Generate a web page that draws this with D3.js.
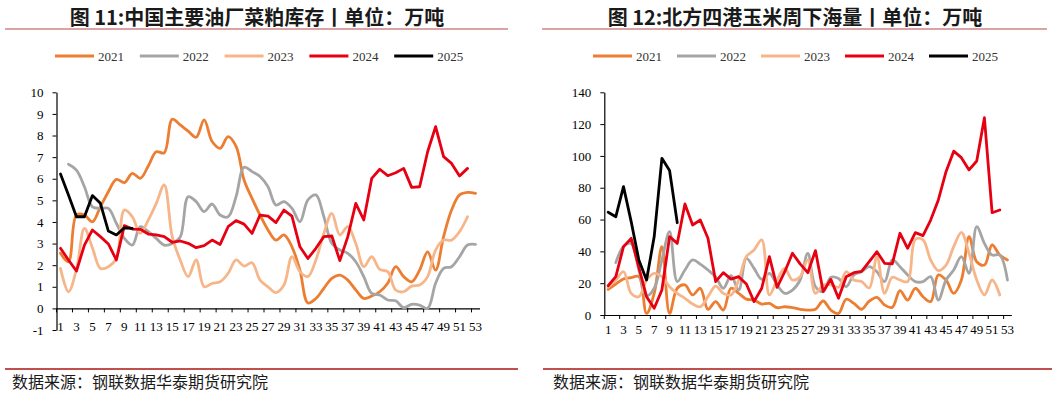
<!DOCTYPE html>
<html>
<head>
<meta charset="utf-8">
<script src="https://cdn.jsdelivr.net/npm/d3@7"></script>
<style>
  body { margin: 0; background: #fff; }
  svg { display: block; }
</style>
</head>
<body>
<svg id="chart" width="1057" height="394"></svg>
<script>
// week numbers on the category axis
const weeks = d3.range(1, 54);
const years = ['2021', '2022', '2023', '2024', '2025'];

// chart 11: rapeseed meal stocks at main oil mills (10k t)
const meal2021 = [2.55, 2.16, 4.32, 4.32, 4.0, 4.7, 5.4, 5.97, 5.82, 6.25, 6.02, 6.59, 7.25, 7.2, 8.75, 8.49, 8.2, 7.92, 8.72, 7.72, 7.41, 7.95, 7.5, 5.94, 5.09, 4.32, 3.63, 3.16, 3.4, 2.85, 1.77, 0.25, 0.46, 0.93, 1.39, 1.54, 1.31, 0.85, 0.46, 0.57, 0.77, 1.16, 1.93, 1.47, 1.23, 1.77, 2.62, 1.77, 3.32, 4.55, 5.25, 5.37, 5.32];
const meal2022 = [null, 6.67, 6.4, 5.63, 4.7, 4.63, 4.63, 3.94, 3.24, 2.93, 3.78, 3.55, 3.24, 2.93, 3.0, 3.3, 5.17, 4.94, 4.48, 4.83, 4.32, 4.24, 5.17, 6.53, 6.33, 6.1, 5.63, 4.78, 4.94, 4.63, 4.01, 5.02, 5.25, 4.24, 3.0, 2.7, 2.55, 2.16, 1.47, 0.69, 0.62, 0.39, 0.35, 0.03, 0.19, 0.15, 0.0, 1.16, 1.85, 1.93, 2.39, 2.93, 2.96];
const meal2023 = [1.85, 0.77, 1.8, 3.7, 2.8, 1.85, 1.93, 2.31, 4.55, 4.24, 3.47, 4.09, 4.86, 5.71, 3.32, 2.24, 1.47, 2.24, 1.0, 1.16, 1.23, 1.62, 2.24, 1.96, 2.11, 1.31, 1.0, 0.73, 1.08, 2.39, 1.7, 1.47, 2.24, 3.47, 4.4, 3.4, 3.78, 3.0, 1.93, 2.39, 1.8, 1.7, 0.85, 0.77, 1.03, 1.08, 1.47, 2.7, 3.16, 3.16, 3.55, 4.24];
const meal2024 = [2.78, 2.24, 1.73, 2.93, 3.63, 3.32, 2.98, 2.24, 3.83, 3.67, 3.66, 3.44, 3.4, 3.32, 3.06, 3.12, 3.01, 2.81, 2.9, 3.16, 2.96, 3.78, 4.06, 3.9, 3.47, 4.32, 4.27, 3.97, 4.55, 4.27, 2.85, 2.31, 2.78, 3.32, 3.35, 2.21, 3.32, 4.86, 4.09, 6.02, 6.44, 6.14, 6.28, 6.48, 5.6, 5.63, 7.25, 8.41, 7.02, 6.71, 6.13, 6.48];
const meal2025 = [6.22, 5.25, 4.24, 4.24, 5.22, 4.86, 3.58, 3.4, 3.73, 3.7];

// chart 12: weekly corn shipments at four northern ports (10k t)
const corn2021 = [16.1, 19.5, 22.6, 23.5, 24.1, 1, 13.6, 43, 1, 16.8, 18.9, 12.6, 16.8, 3.6, 8.4, 3.1, 16.8, 13.6, 10, 9.4, 6.9, 7.3, 4.6, 5.2, 4.6, 3.6, 3.1, 3.6, 8.8, 3.1, 1, 9.9, 7.3, 3.6, 8.7, 11.1, 6.3, 4.8, 15.3, 9.4, 16.8, 11.5, 8.4, 25.2, 22, 13.6, 22, 49.3, 33.5, 31.4, 44, 37.7, 34.6];
const corn2022 = [null, 32.9, 43, 45, 28.3, 12, 16.8, 34.6, 52.4, 21, 28.3, 34.6, 32, 28.3, 24, 16.8, 24.7, 15.7, 35.6, 29.3, 22.4, 26.2, 18.9, 13.6, 15.7, 22, 38.8, 17.8, 14.7, 23.7, 23, 17.8, 25.2, 27.2, 30.4, 27.2, 21, 34.6, 30.4, 25.2, 21, 21, 24.1, 9.4, 22, 28.3, 36.7, 26.2, 55.5, 45, 37.7, 37.7, 22];
const corn2023 = [17.4, 22, 27.2, 13.6, 11.5, 22, 26.2, 24.1, 17.8, 13.6, 10.5, 6.9, 5.2, 11.5, 18.2, 13.6, 12.6, 22, 36.7, 40.9, 47.2, 12.6, 22, 29.3, 22, 24.1, 34.6, 13.6, 18.9, 18.9, 17.4, 27.2, 22, 21, 17, 36.7, 13.6, 23.7, 22, 21, 47.6, 47.2, 34.6, 27.9, 31.4, 43, 52, 38.8, 22, 12.6, 22, 12.6];
const corn2024 = [18.4, 24.1, 43, 48.2, 30, 11.5, 4.2, 15.7, 49.3, 45, 69.8, 56.6, 59.7, 48.2, 21, 26.6, 22.6, 24.1, 19.5, 8.4, 16.8, 36.7, 17.4, 27.2, 38.8, 32.1, 26.6, 40.5, 14.7, 22.4, 10.5, 24.1, 26.6, 27.5, 33.5, 39.8, 32.5, 32.1, 51.4, 41.9, 51.8, 49.9, 59.7, 72.3, 90.1, 103, 98.9, 91.2, 96.8, 124, 64.3, 66];
const corn2025 = [64.6, 61.8, 80.7, 58.7, 34.6, 22, 49.3, 98.5, 90.8, 58];

const leftTicks = d3.range(-1, 11);
const rightTicks = d3.range(0, 141, 20);

const seriesColors = ['#ED7D31', '#A5A5A5', '#F7B68A', '#E60012', '#000000'];
// first three years are drawn as smoothed lines, the last two straight
const smoothed = [true, true, true, false, false];

const serif = '"Liberation Serif", "Times New Roman", serif';
const cjk = '"Noto Sans CJK SC", "Noto Sans", sans-serif';

const svg = d3.select('#chart');

function drawPanel(cfg) {
  const g = svg.append('g');

  // title and rule under it
  g.append('text')
    .attr('x', cfg.titleX)
    .attr('y', 16)
    .attr('text-anchor', 'middle')
    .attr('dominant-baseline', 'central')
    .style('font-family', cjk)
    .style('font-weight', 'bold')
    .style('font-size', '20px')
    .attr('fill', '#1a1a1a')
    .text(cfg.title);

  g.append('line')
    .attr('x1', cfg.ruleX[0]).attr('x2', cfg.ruleX[1])
    .attr('y1', 29).attr('y2', 29)
    .attr('stroke', '#cf8584')
    .attr('stroke-width', 1.5);

  // legend
  const legend = g.append('g');
  years.forEach((yr, i) => {
    const lx = cfg.legendX + i * cfg.legendStep;
    legend.append('line')
      .attr('x1', lx).attr('x2', lx + 39)
      .attr('y1', 56).attr('y2', 56)
      .attr('stroke', seriesColors[i])
      .attr('stroke-width', 3);
    legend.append('text')
      .attr('x', lx + 43)
      .attr('y', 56)
      .attr('dominant-baseline', 'central')
      .style('font-family', serif)
      .style('font-size', '13px')
      .attr('fill', '#333')
      .text(yr);
  });

  const x = d3.scaleBand().domain(weeks).range([cfg.plotLeft, cfg.plotRight]);
  const y = d3.scaleLinear().domain(cfg.yDomain).range([cfg.plotBottom, cfg.plotTop]);
  const bw = x.bandwidth();

  // y axis (plain hyphen for negatives, as in the source)
  const yAxis = g.append('g')
    .attr('transform', `translate(${cfg.plotLeft},0)`)
    .call(d3.axisLeft(y)
      .tickValues(cfg.yTicks)
      .tickFormat(d => String(d))
      .tickSize(4)
      .tickSizeOuter(0)
      .tickPadding(9));

  // x axis sits on the zero line, ticks between categories
  const xAxis = g.append('g')
    .attr('transform', `translate(0,${y(0)})`)
    .call(d3.axisBottom(x)
      .tickValues(weeks.filter(w => w % 2 === 1))
      .tickSize(4)
      .tickSizeOuter(0)
      .tickPadding(cfg.xPad));
  xAxis.selectAll('.tick line')
    .attr('x1', -bw / 2).attr('x2', -bw / 2);

  [yAxis, xAxis].forEach(ax => {
    ax.select('.domain').attr('stroke', '#000').attr('stroke-width', 1.2);
    ax.selectAll('.tick line').attr('stroke', '#000');
    ax.selectAll('.tick text')
      .style('font-family', serif)
      .style('font-size', '13px')
      .attr('fill', '#000');
  });

  // series
  cfg.series.forEach((vals, i) => {
    const pts = vals.map((v, k) => ({ w: weeks[k], v }));
    const line = d3.line()
      .defined(d => d.v != null)
      .x(d => x(d.w) + bw / 2)
      .y(d => y(d.v))
      .curve(smoothed[i] ? d3.curveCatmullRom.alpha(0.5) : d3.curveLinear);
    g.append('path')
      .datum(pts)
      .attr('d', line)
      .attr('fill', 'none')
      .attr('stroke', seriesColors[i])
      .attr('stroke-width', 2.8)
      .attr('stroke-linejoin', 'round')
      .attr('stroke-linecap', 'round');
  });

  // source note
  g.append('line')
    .attr('x1', cfg.footX[0]).attr('x2', cfg.footX[1])
    .attr('y1', 369).attr('y2', 369)
    .attr('stroke', '#c0504d')
    .attr('stroke-width', 2);
  g.append('text')
    .attr('x', cfg.footTextX)
    .attr('y', 381)
    .attr('dominant-baseline', 'central')
    .style('font-family', cjk)
    .style('font-size', '16px')
    .attr('fill', '#1a1a1a')
    .text('数据来源：钢联数据华泰期货研究院');
}

drawPanel({
  title: '图 11:中国主要油厂菜粕库存丨单位：万吨',
  titleX: 257,
  ruleX: [5, 508],
  legendX: 55,
  legendStep: 84.8,
  plotLeft: 56.5,
  plotRight: 479.5,
  plotTop: 92.3,
  plotBottom: 330,
  yDomain: [-1, 10],
  yTicks: leftTicks,
  xPad: 9,
  series: [meal2021, meal2022, meal2023, meal2024, meal2025],
  footX: [5, 518],
  footTextX: 12
});

drawPanel({
  title: '图 12:北方四港玉米周下海量丨单位：万吨',
  titleX: 795,
  ruleX: [542, 1047],
  legendX: 593,
  legendStep: 84,
  plotLeft: 604.3,
  plotRight: 1011.3,
  plotTop: 92.3,
  plotBottom: 315,
  yDomain: [0, 140],
  yTicks: rightTicks,
  xPad: 6,
  series: [corn2021, corn2022, corn2023, corn2024, corn2025],
  footX: [543, 1052],
  footTextX: 553
});
</script>
</body>
</html>
